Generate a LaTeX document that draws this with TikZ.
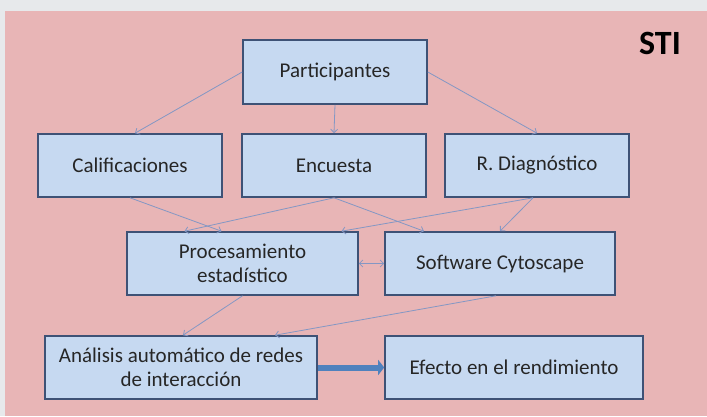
\documentclass[tikz,border=0pt]{standalone}
\usepackage{fontspec}
\setmainfont{Carlito}
\usetikzlibrary{arrows.meta}

\definecolor{bggray}{RGB}{231,233,235}
\definecolor{panelpink}{RGB}{232,181,182}
\definecolor{boxfill}{RGB}{198,217,241}
\definecolor{boxline}{RGB}{62,82,118}
\definecolor{linkblue}{RGB}{132,151,196}
\definecolor{bigblue}{RGB}{79,129,189}
\definecolor{textgray}{RGB}{38,38,38}

\tikzset{
  stage/.style={draw=boxline,fill=boxfill,line width=1.6pt,inner sep=2pt,
    align=center,text=textgray,font=\fontsize{21pt}{24pt}\selectfont},
  link/.style={draw=linkblue,line width=0.8pt,->},
}

\begin{document}
\begin{tikzpicture}[x=1pt,y=1pt,>={Straight Barb[length=3.5pt,width=7pt]}]
\fill[bggray] (0,0) rectangle (707,416);
\fill[panelpink] (5,0) rectangle (707,405);
\useasboundingbox (0,0) rectangle (707,416);

\node[font=\fontsize{34pt}{36pt}\selectfont\bfseries] (sti) at (660,373) {STI};

% boxes
\node[stage,minimum width=184pt,minimum height=64pt] (part) at (335,344) {Participantes};

\node[stage,minimum width=184pt,minimum height=63pt] (calif) at (130,250.5) {Calificaciones};
\node[stage,minimum width=184pt,minimum height=63pt] (enc) at (334,250.5) {Encuesta};
\node[stage,minimum width=184pt,minimum height=63pt] (diag) at (537,250.5) {R. Diagnóstico};

\node[stage,minimum width=231pt,minimum height=63pt] (proc) at (242.5,152.5) {Procesamiento\\estadístico};
\node[stage,minimum width=230pt,minimum height=63pt] (soft) at (500,152.5) {Software Cytoscape};

\node[stage,minimum width=272pt,minimum height=63pt] (anal) at (181,48.5) {Análisis automático de redes\\de interacción};
\node[stage,minimum width=258pt,minimum height=63pt] (efec) at (514,48.5) {Efecto en el rendimiento};

% thin links
\draw[link] (part.west) -- ([xshift=5pt]calif.north);
\draw[link] (part.south) -- (enc.north);
\draw[link] (part.east) -- (diag.north);

\draw[link] (calif.south) -- ([xshift=-21pt]proc.north);
\draw[link] (enc.south) -- ([xshift=-58pt]proc.north);
\draw[link] (enc.south) -- ([xshift=-76pt]soft.north);
\draw[link] ([xshift=-4pt]diag.south) -- ([xshift=99pt]proc.north);
\draw[link] ([xshift=-4pt]diag.south) -- (soft.north);

\draw[link,<->] (proc.east) -- (soft.west);

\draw[link] (proc.south) -- ([xshift=2pt]anal.north);
\draw[link] ([xshift=-4pt]soft.south) -- ([xshift=94pt]anal.north);

% thick arrow
\draw[bigblue,line width=6pt,-{Triangle[length=6pt,width=15pt]}] (anal.east) -- (efec.west);
\end{tikzpicture}
\end{document}
